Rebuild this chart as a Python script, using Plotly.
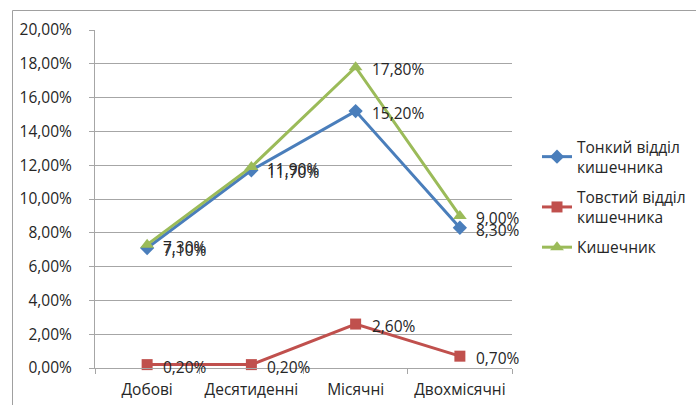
import plotly.graph_objects as go

# Categories (observation periods) and series values, in percent
categories = ["Добові", "Десятиденні", "Місячні", "Двохмісячні"]
thin_intestine = [7.1, 11.7, 15.2, 8.3]
thick_intestine = [0.2, 0.2, 2.6, 0.7]
intestine = [7.3, 11.9, 17.8, 9.0]

series_names = ["Тонкий відділ<br>кишечника", "Товстий відділ<br>кишечника", "Кишечник"]
y_ticks = [0, 2, 4, 6, 8, 10, 12, 14, 16, 18, 20]
y_tick_labels = ["0,00%", "2,00%", "4,00%", "6,00%", "8,00%", "10,00%",
                 "12,00%", "14,00%", "16,00%", "18,00%", "20,00%"]

FONT = "Open Sans"
FS = 15.5
TEXT = "#262626"
GRID = "#a6a6a6"

styles = [
    dict(color="#4a7ebb", symbol="diamond", size=11),
    dict(color="#c0504d", symbol="square", size=11),
    dict(color="#9bbb59", symbol="triangle-up", size=12),
]


def pct(v):
    return f"{v:.2f}".replace(".", ",") + "%"


fig = go.Figure()
all_series = [thin_intestine, thick_intestine, intestine]
for i, (name, vals, st) in enumerate(zip(series_names, all_series, styles)):
    fig.add_trace(go.Scatter(
        x=categories, y=vals, name=name, mode="lines+markers",
        line=dict(color=st["color"], width=3),
        marker=dict(color=st["color"], symbol=st["symbol"], size=st["size"]),
        legendgroup=f"g{i}",
        cliponaxis=False,
    ))

# Value labels to the right of each point
annotations = []
for vals in all_series:
    for cat, v in zip(categories, vals):
        annotations.append(dict(
            x=cat, y=v, xref="x", yref="y", text=pct(v), showarrow=False,
            xanchor="left", yanchor="middle", xshift=14, yshift=-2,
            font=dict(family=FONT, size=FS, color=TEXT),
        ))

W, H = 696, 405
L, R, T, B = 95, 184, 30, 37
pw, ph = W - L - R, H - T - B


def px_x(x):
    return (x - L) / pw


def px_y(y):
    return (H - B - y) / ph


# Chart-area frame (top and left edges)
shapes = [
    dict(type="line", xref="paper", yref="paper",
         x0=px_x(12.5), y0=px_y(405), x1=px_x(12.5), y1=px_y(10.5),
         line=dict(color="#a0a0a0", width=1)),
    dict(type="line", xref="paper", yref="paper",
         x0=px_x(12.5), y0=px_y(10.5), x1=px_x(696), y1=px_y(10.5),
         line=dict(color="#a0a0a0", width=1)),
]

fig.update_layout(
    width=W, height=H,
    margin=dict(l=L, r=R, t=T, b=B, pad=0, autoexpand=False),
    paper_bgcolor="white", plot_bgcolor="white",
    font=dict(family=FONT, size=FS, color=TEXT),
    showlegend=True,
    legend=dict(
        x=px_x(537), y=px_y(130), xanchor="left", yanchor="top",
        font=dict(family=FONT, size=FS, color=TEXT),
        tracegroupgap=7, bgcolor="rgba(0,0,0,0)",
    ),
    xaxis=dict(
        type="category", range=[-0.5, 3.5], tickangle=0, automargin=False,
        showgrid=False, showline=True, linecolor=GRID, linewidth=1,
        ticks="outside", tickson="boundaries", ticklen=5, tickcolor=GRID,
        tickfont=dict(family=FONT, size=FS, color=TEXT),
        ticklabelstandoff=7, fixedrange=True,
    ),
    yaxis=dict(
        range=[0, 20], tickvals=y_ticks, ticktext=y_tick_labels,
        automargin=False,
        showgrid=True, gridcolor=GRID, gridwidth=1,
        showline=True, linecolor=GRID, linewidth=1,
        ticks="outside", ticklen=5, tickcolor=GRID,
        tickfont=dict(family=FONT, size=FS, color=TEXT),
        ticklabelstandoff=14, zeroline=False, fixedrange=True,
    ),
    annotations=annotations,
    shapes=shapes,
)

fig.write_html("out.html")
